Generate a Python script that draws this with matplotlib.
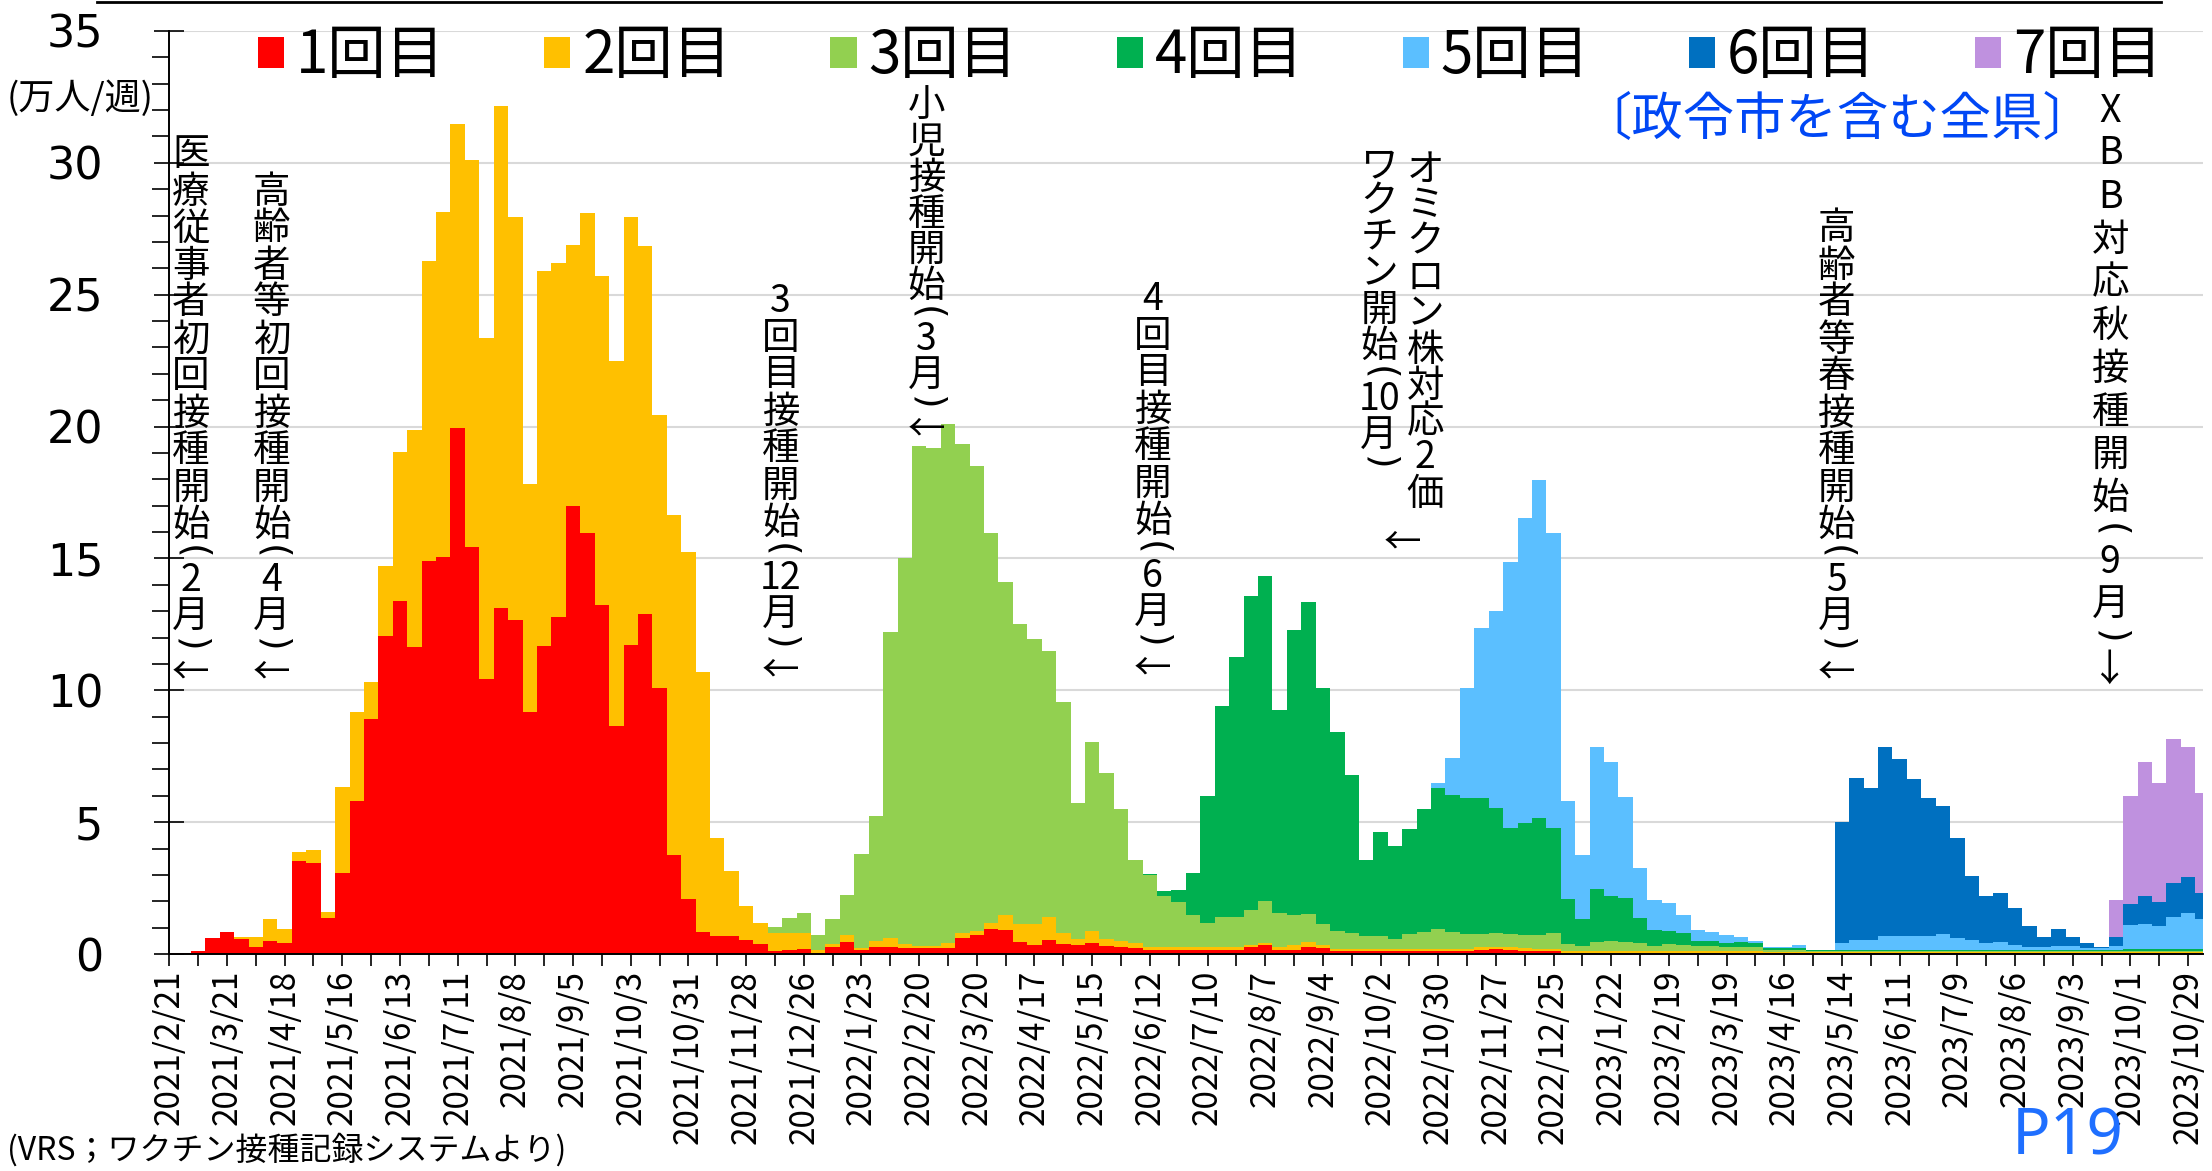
import numpy as np
import matplotlib
matplotlib.use('Agg')
import matplotlib.pyplot as plt
from matplotlib.patches import Patch
from matplotlib.lines import Line2D

plt.rcParams['font.family'] = ['Noto Sans CJK JP', 'DejaVu Sans']

# weekly vaccinations (10k people / week), one bar per week from 2021/2/21
dose1 = [0.02, 0.05, 0.12, 0.62, 0.83, 0.58, 0.25, 0.51, 0.41, 3.51,
         3.46, 1.36, 3.08, 5.81, 8.92, 12.07, 13.39, 11.65, 14.91, 15.05,
         19.94, 15.42, 10.44, 13.11, 12.67, 9.18, 11.69, 12.78, 17.0, 15.97,
         13.24, 8.65, 11.71, 12.89, 10.09, 3.77, 2.09, 0.84, 0.69, 0.69,
         0.52, 0.37, 0.11, 0.15, 0.2, 0.05, 0.26, 0.47, 0.15, 0.26,
         0.26, 0.22, 0.22, 0.22, 0.22, 0.6, 0.72, 0.96, 0.9, 0.47,
         0.33, 0.54, 0.37, 0.36, 0.4, 0.29, 0.26, 0.21, 0.16, 0.15,
         0.15, 0.15, 0.15, 0.15, 0.15, 0.26, 0.33, 0.15, 0.15, 0.26,
         0.21, 0.1, 0.1, 0.1, 0.1, 0.1, 0.1, 0.1, 0.1, 0.1,
         0.1, 0.15, 0.18, 0.15, 0.12, 0.1, 0.1, 0.05, 0.05, 0.05] + [0.05] * 11 + [0.03] * 31
dose2 = [0, 0, 0, 0, 0, 0.08, 0.41, 0.82, 0.54, 0.34,
         0.48, 0.23, 3.25, 3.36, 1.41, 2.63, 5.66, 8.23, 11.36, 13.07,
         11.55, 14.67, 12.9, 19.03, 15.29, 8.63, 14.2, 13.42, 9.88, 12.13,
         12.46, 13.85, 16.23, 13.97, 10.36, 12.87, 13.15, 9.84, 3.72, 2.47,
         1.31, 0.81, 0.69, 0.65, 0.6, 0.1, 0.11, 0.24, 0.07, 0.24,
         0.36, 0.15, 0.1, 0.1, 0.19, 0.2, 0.15, 0.22, 0.57, 0.66,
         0.8, 0.86, 0.41, 0.21, 0.46, 0.28, 0.25, 0.19, 0.1, 0.12,
         0.12, 0.12, 0.12, 0.12, 0.12, 0.07, 0.07, 0.11, 0.18, 0.18,
         0.12] + [0.09] * 10 + [0.1] * 6 + [0.05] * 14 + [0.03] * 31
dose3 = [0] * 42 + [0.21, 0.56, 0.77, 0.58, 0.94, 1.53, 3.59, 4.73,
         11.58, 14.63, 18.94, 18.88, 19.69, 18.53, 17.65, 14.77, 12.65, 11.39,
         10.8, 10.1, 8.78, 5.14, 7.17, 6.28, 4.98, 3.18, 2.74, 1.94,
         1.7, 1.2, 0.91, 1.13, 1.13, 1.32, 1.6, 1.28, 1.14, 1.06,
         0.81, 0.68, 0.62, 0.48, 0.48, 0.37, 0.56, 0.66, 0.74, 0.63,
         0.56, 0.51, 0.51, 0.51, 0.51, 0.51, 0.6, 0.27, 0.22, 0.36,
         0.4, 0.37, 0.33, 0.2, 0.27, 0.23, 0.2, 0.2, 0.18, 0.18,
         0.15, 0.1, 0.1, 0.1, 0.05, 0.05] + [0.04] * 26
dose4 = [0] * 68 + [0.04, 0.16,
         0.47, 1.61, 4.8, 7.99, 9.88, 11.92, 12.34, 7.73, 10.8, 11.85,
         8.95, 7.53, 5.97, 2.91, 3.95, 3.53, 3.99, 4.63, 5.35, 5.2,
         5.17, 5.16, 4.73, 4.02, 4.24, 4.45, 3.98, 1.7, 0.99, 1.99,
         1.71, 1.64, 0.93, 0.6, 0.5, 0.45, 0.21, 0.21, 0.14, 0.18,
         0.16, 0.07, 0.07, 0.08, 0.04, 0.04] + [0.07] * 20 + [0.1] * 6
dose5 = [0] * 88 + [0.2, 1.4,
         4.16, 6.46, 7.5, 10.1, 11.56, 12.81, 11.17, 3.74, 2.43, 5.39,
         5.07, 3.85, 1.89, 1.14, 1.06, 0.69, 0.39, 0.33, 0.3, 0.2,
         0.1, 0.03, 0.03, 0.09, 0.02, 0.02, 0.25, 0.35, 0.35, 0.53,
         0.53, 0.53, 0.53, 0.57, 0.44, 0.35, 0.25, 0.3, 0.19, 0.1,
         0.08, 0.13, 0.13, 0.05, 0.05, 0.15, 0.91, 0.95, 0.85, 1.2,
         1.36, 1.13]
dose6 = [0] * 116 + [4.58, 6.14, 5.76, 7.16,
         6.68, 5.92, 5.2, 4.89, 3.77, 2.45, 1.79, 1.84, 1.4, 0.78,
         0.41, 0.63, 0.35, 0.19, 0.06, 0.34, 0.8, 1.04, 0.92, 1.3,
         1.36, 0.99]
dose7 = [0] * 135 + [1.39, 4.08, 5.1, 4.51, 5.44, 4.94, 3.79]

dose_names = ['1回目', '2回目', '3回目', '4回目', '5回目', '6回目', '7回目']
colors = ['#FF0000', '#FFC000', '#92D050', '#00B050', '#5BBFFF', '#0070C0', '#BF91DF']

date_labels = ['2021/2/21', '2021/3/21', '2021/4/18', '2021/5/16', '2021/6/13', '2021/7/11',
               '2021/8/8', '2021/9/5', '2021/10/3', '2021/10/31', '2021/11/28', '2021/12/26',
               '2022/1/23', '2022/2/20', '2022/3/20', '2022/4/17', '2022/5/15', '2022/6/12',
               '2022/7/10', '2022/8/7', '2022/9/4', '2022/10/2', '2022/10/30', '2022/11/27',
               '2022/12/25', '2023/1/22', '2023/2/19', '2023/3/19', '2023/4/16', '2023/5/14',
               '2023/6/11', '2023/7/9', '2023/8/6', '2023/9/3', '2023/10/1', '2023/10/29']

series = [dose1, dose2, dose3, dose4, dose5, dose6, dose7]
weeks = np.arange(len(dose1))

W, H = 2212, 1171
fig = plt.figure(figsize=(W / 100, H / 100), dpi=100)
ax = fig.add_axes([169.3 / W, 1 - 954 / H, (2202.5 - 169.3) / W, (954 - 31) / H])

bottom = np.zeros(len(weeks))
for vals, col, name in zip(series, colors, dose_names):
    ax.bar(weeks, vals, width=1.0, bottom=bottom, color=col, linewidth=0, label=name, zorder=2)
    bottom += np.array(vals)

ax.set_xlim(0, 141)
ax.set_ylim(0, 35)
ax.set_yticks(range(0, 36, 5))
ax.set_yticks(range(0, 36), minor=True)
ax.grid(axis='y', which='major', color='#d9d9d9', linewidth=1.5, zorder=0)
ax.set_axisbelow(True)

ax.set_xticks(range(0, 141, 4))
ax.set_xticklabels(date_labels, rotation=90, fontsize=24)
ax.set_xticks(range(2, 142, 4), minor=True)

for s in ['top', 'right']:
    ax.spines[s].set_visible(False)
for s in ['left', 'bottom']:
    ax.spines[s].set_linewidth(1.4)

ax.tick_params(axis='y', which='major', direction='inout', length=21, width=1.2,
               labelsize=32, pad=37)
ax.tick_params(axis='y', which='minor', direction='out', length=12, width=1.2)
ax.tick_params(axis='x', which='both', direction='out', length=8.5, width=1.2, pad=3)
for lbl in ax.get_yticklabels():
    lbl.set_fontfamily('DejaVu Sans')

# legend along the top
handles = [Patch(facecolor=c, edgecolor='none') for c in colors]
fig.legend(handles, dose_names, ncol=7, loc='center left',
           bbox_to_anchor=(258 / W, 1 - 57 / H), frameon=False, fontsize=42,
           handlelength=0.45, handleheight=0.45, handletextpad=0.2,
           columnspacing=1.7, borderpad=0, borderaxespad=0)

fig.text(7 / W, 1 - 99 / H, '(万人/週)', fontsize=26, ha='left', va='center')
fig.text(1837 / W, 1 - 120 / H, '〔政令市を含む全県〕', fontsize=37, color='#0047F5',
         ha='center', va='center')
fig.text(7 / W, 1 - 1150 / H, '(VRS；ワクチン接種記録システムより)', fontsize=23,
         ha='left', va='center')
fig.text(2068 / W, 0.001, 'P19', fontsize=46, color='#1F6FFF',
         family='Noto Sans', ha='center', va='bottom')
fig.add_artist(Line2D([97 / W, 2161 / W], [1 - 1.5 / H] * 2, color='black', lw=2))

# vertical annotations
PX = 35 / (954 - 31)


def ypx(p):
    return (954 - p) * PX


def vertical(x, top, tokens, step):
    heights = {'(': step / 2, ')': step / 2}
    pos = top
    prev = None
    for t in tokens:
        h = heights.get(t, step)
        if prev is not None:
            pos += (prev + h) / 2
        prev = h
        if t in '()':
            ax.text(x, ypx(pos), t, rotation=-90, ha='center', va='center',
                    fontsize=27, family='DejaVu Sans', zorder=5)
        else:
            ax.text(x, ypx(pos), t, ha='center', va='center', fontsize=27, zorder=5)


vertical(1.5, 155, list('医療従事者初回接種開始') + ['(', '2', '月', ')', '←'], 37)
vertical(7.1, 192, list('高齢者等初回接種開始') + ['(', '4', '月', ')', '←'], 37)
vertical(42.4, 301, ['3'] + list('回目接種開始') + ['(', '12', '月', ')', '←'], 37)
vertical(52.5, 106, list('小児接種開始') + ['(', '3', '月', ')', '←'], 36)
vertical(68.2, 299, ['4'] + list('回目接種開始') + ['(', '6', '月', ')', '←'], 37)
vertical(87.1, 170, list('オミクロン株対応2価'), 36)
vertical(83.9, 166, list('ワクチン開始') + ['(', '10', '月', ')'], 36)
ax.text(85.5, ypx(543), '←', ha='center', va='center', fontsize=27, zorder=5)
vertical(115.6, 229, list('高齢者等春接種開始') + ['(', '5', '月', ')', '←'], 37)
vertical(134.6, 111, list('XBB対応秋接種開始') + ['(', '9', '月', ')', '↓'], 43)

fig.savefig('out.png', dpi=100)
